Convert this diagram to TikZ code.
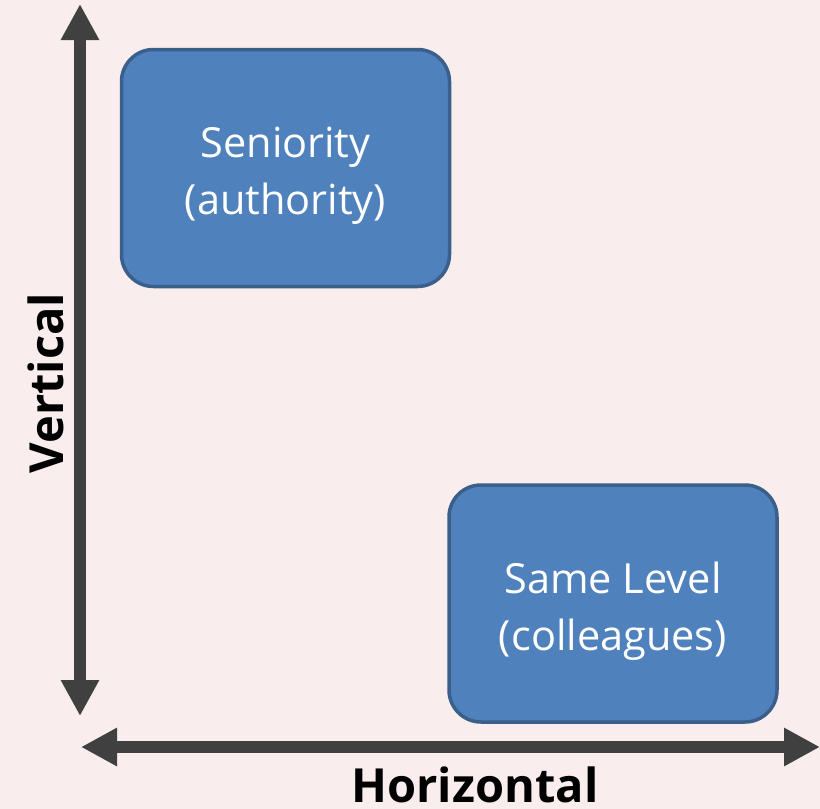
\documentclass[tikz,border=0pt]{standalone}
\usepackage{fontspec}
\setmainfont{Open Sans}
\usetikzlibrary{arrows.meta}
\definecolor{bgpink}{HTML}{F9EDED}
\definecolor{boxfill}{HTML}{4F81BD}
\definecolor{boxline}{HTML}{3A5F8B}
\definecolor{axisgray}{HTML}{404040}
\tikzset{
  x=1pt, y=-1pt,
  card/.style={draw=boxline, line width=3.5pt, fill=boxfill, rounded corners=32pt,
    minimum width=328pt, minimum height=237pt, inner sep=0pt},
  cardtext/.style={text=white, align=center,
    font=\fontsize{41.5}{57}\selectfont, inner sep=0pt},
  axis/.style={draw=axisgray, line width=12pt,
    {Triangle[length=36pt,width=36pt]}-{Triangle[length=36pt,width=36pt]}},
  axislabel/.style={font=\fontsize{47}{56}\selectfont\bfseries, text=black, inner sep=0pt}
}
\begin{document}
\begin{tikzpicture}
  \fill[bgpink] (0,0) rectangle (820,809);
  \useasboundingbox (0,0) rectangle (820,809);

  % axis end points
  \coordinate (vtop) at (80,4);
  \coordinate (vbot) at (80,716);
  \coordinate (hleft) at (81,747);
  \coordinate (hright) at (820,747);

  \draw[axis] (vtop) -- (vbot);
  \draw[axis] (hleft) -- (hright);

  % the two categories
  \node[card] (senior) at (285.5,168) {};
  \node[cardtext] (seniortext) at ([yshift=-7.5pt]senior.center) {Seniority\\(authority)};
  \node[card] (same) at (613,603.5) {};
  \node[cardtext] (sametext) at ([yshift=-7.5pt]same.center) {Same Level\\(colleagues)};

  % axis labels
  \node[axislabel, rotate=90] (vlabel) at (46,383) {Vertical};
  \node[axislabel, anchor=base] (hlabel) at (475,802.5) {Horizontal};
\end{tikzpicture}
\end{document}
